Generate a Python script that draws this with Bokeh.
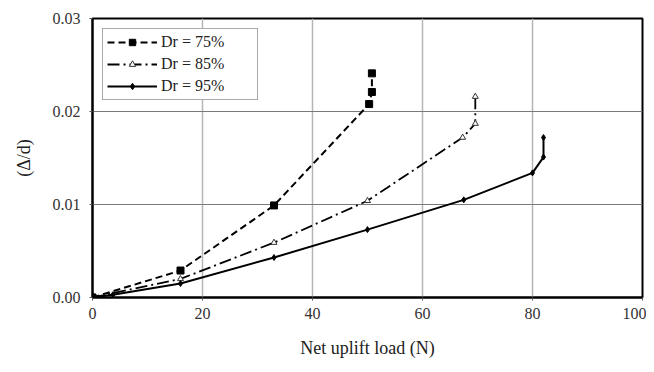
from bokeh.plotting import figure
from bokeh.models import Range1d, Legend, LegendItem, FixedTicker, PrintfTickFormatter
from bokeh.embed import file_html
from bokeh.resources import INLINE

# Data
x75 = [0, 16, 33, 50.3, 50.8, 50.8]
y75 = [0, 0.0029, 0.0099, 0.0208, 0.0221, 0.0241]
x85 = [0, 16, 33, 50, 67.3, 69.6, 69.6]
y85 = [0, 0.0020, 0.0059, 0.0104, 0.0172, 0.0187, 0.0216]
x95 = [0, 3.7, 16, 33, 50, 67.5, 80, 82, 82]
y95 = [0, 0.0003, 0.0015, 0.0043, 0.0073, 0.0105, 0.0134, 0.0151, 0.0172]
x_ticks = [0, 20, 40, 60, 80, 100]
y_ticks = [0.0, 0.01, 0.02, 0.03]
labels = ["Dr = 75%", "Dr = 85%", "Dr = 95%"]

FONT = "Liberation Serif"

p = figure(width=646, height=364, output_backend="svg", toolbar_location=None,
           x_range=Range1d(0, 100), y_range=Range1d(0, 0.03),
           min_border_left=92, min_border_right=4, min_border_top=18, min_border_bottom=67)
p.frame_width = 550
p.frame_height = 279

p.outline_line_color = "black"
p.outline_line_width = 2
p.background_fill_color = "white"
p.border_fill_color = "white"

p.xaxis.ticker = FixedTicker(ticks=x_ticks)
p.yaxis.ticker = FixedTicker(ticks=y_ticks)
p.yaxis.formatter = PrintfTickFormatter(format="%.2f")
for ax in (p.xaxis[0], p.yaxis[0]):
    ax.axis_line_color = "black"
    ax.axis_line_width = 2
    ax.major_tick_line_color = "#555555"
    ax.major_tick_out = 3
    ax.major_tick_in = 0
    ax.minor_tick_line_color = None
    ax.major_label_text_font = FONT
    ax.major_label_text_font_size = "16px"
    ax.major_label_text_color = "#333333"
    ax.axis_label_text_font = FONT
    ax.axis_label_text_font_style = "normal"
    ax.axis_label_text_font_size = "18px"
    ax.axis_label_text_color = "#222222"
p.xaxis.axis_label = "Net uplift load (N)"
p.yaxis.axis_label = "(\u0394/d)"
p.xaxis.major_label_standoff = 7
p.xaxis.axis_label_standoff = 16
p.yaxis.major_label_standoff = 9
p.yaxis.axis_label_standoff = 16

p.xgrid.grid_line_color = "#b5b5b5"
p.xgrid.grid_line_width = 1.5
p.ygrid.grid_line_color = "#7a7a7a"
p.ygrid.grid_line_width = 1.2

l75 = p.line(x75, y75, line_color="black", line_width=2, line_dash="7 4")
m75 = p.scatter(x75, y75, marker="square", size=7, color="black")
l85 = p.line(x85, y85, line_color="black", line_width=1.8, line_dash="12 4 2 4")
m85 = p.scatter(x85, y85, marker="triangle", size=6, line_color="#333333",
                fill_color="white", line_width=1)
l95 = p.line(x95, y95, line_color="black", line_width=2)
m95 = p.scatter(x95, y95, marker="diamond", size=6, color="black")
p.scatter([0], [0], marker="circle", size=8, color="black")

legend = Legend(items=[
    LegendItem(label=labels[0], renderers=[l75, m75]),
    LegendItem(label=labels[1], renderers=[l85, m85]),
    LegendItem(label=labels[2], renderers=[l95, m95]),
], location="top_left")
legend.label_text_font = FONT
legend.label_text_font_size = "16px"
legend.label_text_color = "#222222"
legend.border_line_color = "#555555"
legend.border_line_width = 1
legend.glyph_width = 50
legend.glyph_height = 16
legend.spacing = 4
legend.padding = 4
legend.margin = 10
legend.label_standoff = 4
legend.label_width = 92
legend.background_fill_alpha = 1
p.add_layout(legend, "center")

open("out.html", "w").write(file_html(p, INLINE))
